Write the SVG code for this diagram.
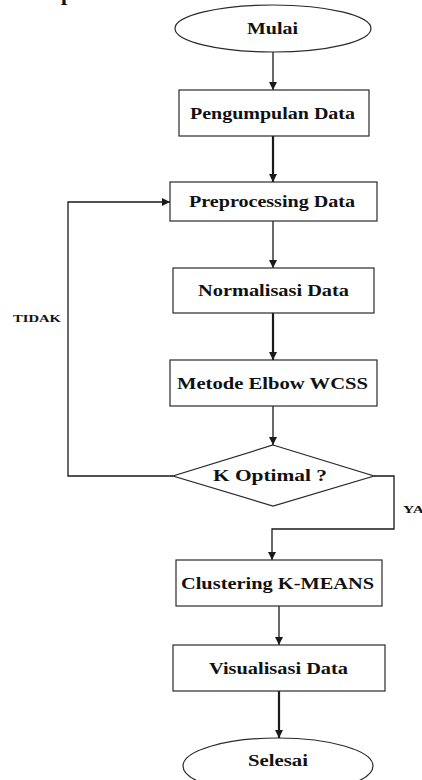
<svg xmlns="http://www.w3.org/2000/svg" width="422" height="780" viewBox="0 0 422 780">
<style>
.shape{fill:#fff;stroke:#2a2a2a;stroke-width:1.2}
.lbl{font-family:"Liberation Serif","Times New Roman",serif;font-weight:bold;font-size:16px;fill:#111;text-anchor:middle}
.side{font-family:"Liberation Serif","Times New Roman",serif;font-weight:bold;font-size:10.5px;fill:#111}
.c{fill:none;stroke:#1a1a1a;stroke-width:1.3}
.thick{stroke-width:2.2}
</style>
<defs>
<marker id="ah" markerUnits="userSpaceOnUse" markerWidth="9" markerHeight="9" refX="8" refY="4.5" orient="auto">
<path d="M0,0.5 L8,4.5 L0,8.5 z" fill="#1a1a1a"/>
</marker>
</defs>
<text class="side" x="61" y="0" style="font-size:22px">p</text>
<g id="connectors">
<line class="c" x1="273" y1="52" x2="273" y2="90" marker-end="url(#ah)"/>
<line class="c thick" x1="273" y1="136" x2="273" y2="182" marker-end="url(#ah)"/>
<line class="c" x1="273" y1="221" x2="273" y2="268" marker-end="url(#ah)"/>
<line class="c thick" x1="273" y1="313" x2="273" y2="360" marker-end="url(#ah)"/>
<line class="c" x1="273" y1="406" x2="273" y2="445" marker-end="url(#ah)"/>
<polyline class="c" points="173,476 68,476 68,202 170,202" marker-end="url(#ah)"/>
<polyline class="c" points="374,476 394,476 394,529 272,529 272,560" marker-end="url(#ah)"/>
<line class="c" x1="279" y1="606" x2="279" y2="645" marker-end="url(#ah)"/>
<line class="c thick" x1="279" y1="691" x2="279" y2="738" marker-end="url(#ah)"/>
<text class="side" x="13" y="322" textLength="48" lengthAdjust="spacingAndGlyphs">TIDAK</text>
<text class="side" x="403" y="513" textLength="21" lengthAdjust="spacingAndGlyphs">YA</text>
</g>
<g id="mulai">
<ellipse class="shape" cx="273" cy="28.5" rx="98" ry="23.5"/>
<text class="lbl" x="272.5" y="34" textLength="51" lengthAdjust="spacingAndGlyphs">Mulai</text>
</g>
<g id="pengumpulan">
<rect class="shape" x="179" y="90" width="190" height="46"/>
<text class="lbl" x="272.5" y="119" textLength="165" lengthAdjust="spacingAndGlyphs">Pengumpulan Data</text>
</g>
<g id="preprocessing">
<rect class="shape" x="170" y="182" width="207" height="39"/>
<text class="lbl" x="272" y="207" textLength="166" lengthAdjust="spacingAndGlyphs">Preprocessing Data</text>
</g>
<g id="normalisasi">
<rect class="shape" x="173" y="268" width="201" height="45"/>
<text class="lbl" x="273.5" y="296" textLength="151" lengthAdjust="spacingAndGlyphs">Normalisasi Data</text>
</g>
<g id="elbow">
<rect class="shape" x="170" y="360" width="207" height="46"/>
<text class="lbl" x="272.5" y="389" textLength="191" lengthAdjust="spacingAndGlyphs">Metode Elbow WCSS</text>
</g>
<g id="koptimal">
<polygon class="shape" points="273,445 374,476 273,506 173,476"/>
<text class="lbl" x="270" y="481" textLength="114" lengthAdjust="spacingAndGlyphs">K Optimal ?</text>
</g>
<g id="clustering">
<rect class="shape" x="176" y="560" width="206" height="46"/>
<text class="lbl" x="277.5" y="589" textLength="193" lengthAdjust="spacingAndGlyphs">Clustering K-MEANS</text>
</g>
<g id="visualisasi">
<rect class="shape" x="173" y="645" width="212" height="46"/>
<text class="lbl" x="278.5" y="674" textLength="139" lengthAdjust="spacingAndGlyphs">Visualisasi Data</text>
</g>
<g id="selesai">
<ellipse class="shape" cx="278" cy="766" rx="95" ry="28"/>
<text class="lbl" x="278" y="766" textLength="60" lengthAdjust="spacingAndGlyphs">Selesai</text>
</g>
</svg>
